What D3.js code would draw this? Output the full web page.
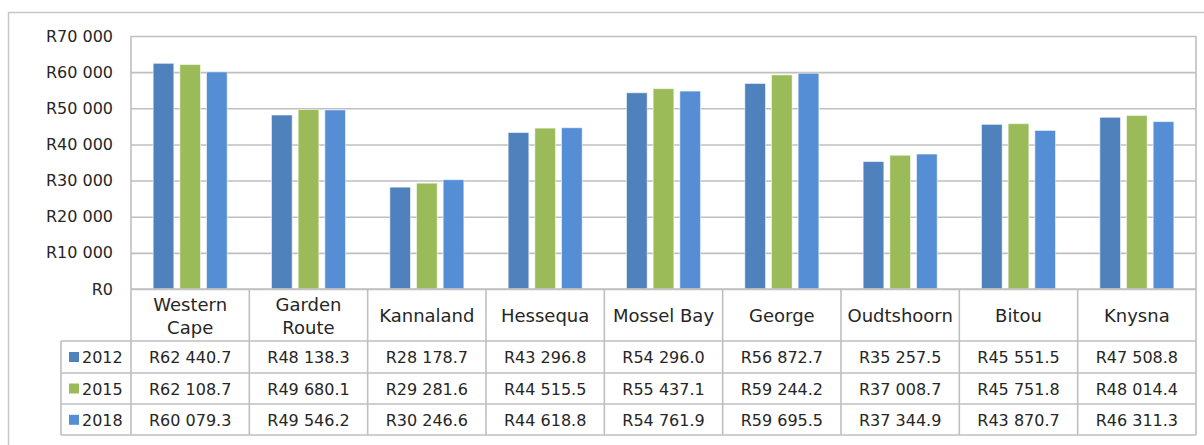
<!DOCTYPE html>
<html>
<head>
<meta charset="utf-8">
<script src="https://cdn.jsdelivr.net/npm/d3@7"></script>
<style>
  html, body { margin: 0; padding: 0; background: #fff; }
  svg { display: block; }
  text { font-family: "DejaVu Sans", sans-serif; fill: #262626; }
</style>
</head>
<body>
<svg id="chart" width="1204" height="445"></svg>
<script>
const categories = ["Western Cape", "Garden Route", "Kannaland", "Hessequa", "Mossel Bay", "George", "Oudtshoorn", "Bitou", "Knysna"];
const headerLabels = [["Western", "Cape"], ["Garden", "Route"], ["Kannaland"], ["Hessequa"], ["Mossel Bay"], ["George"], ["Oudtshoorn"], ["Bitou"], ["Knysna"]];
const years = ["2012", "2015", "2018"];
const values2012 = [62440.7, 48138.3, 28178.7, 43296.8, 54296.0, 56872.7, 35257.5, 45551.5, 47508.8];
const values2015 = [62108.7, 49680.1, 29281.6, 44515.5, 55437.1, 59244.2, 37008.7, 45751.8, 48014.4];
const values2018 = [60079.3, 49546.2, 30246.6, 44618.8, 54761.9, 59695.5, 37344.9, 43870.7, 46311.3];
const yTicks = [0, 10000, 20000, 30000, 40000, 50000, 60000, 70000];
const colors = ["#4F81BD", "#9BBB59", "#558ED5"];

(function () {
const series = [values2012, values2015, values2018];

const locale = d3.formatLocale({ decimal: ".", thousands: " ", grouping: [3], currency: ["R", ""] });
const fmtTick = locale.format("$,.0f");
const fmtVal = locale.format("$,.1f");

const svg = d3.select("#chart");
const grid = "#BFBFBF";

// outer chart border (cropped at right & bottom)
svg.append("rect").attr("x", 8.5).attr("y", 12.5).attr("width", 1220).attr("height", 460)
  .attr("fill", "none").attr("stroke", "#C6C6C6").attr("stroke-width", 1.5);

const pLeft = 131, pRight = 1196, pTop = 36, pBase = 289;
const rowY = [289, 341, 373, 404, 435];
const legendLeft = 61;

const y = d3.scaleLinear().domain([0, 70000]).range([pBase, pTop]);
const x = d3.scaleBand().domain(categories).range([pLeft, pRight]).padding(0);
const xs = d3.scaleBand().domain(years).range([0, x.bandwidth()]).paddingInner(0.224).paddingOuter(0.83);

// y axis with gridlines
const yAxis = d3.axisLeft(y).tickValues(yTicks).tickSize(-(pRight - pLeft)).tickPadding(18).tickFormat(fmtTick);
const gy = svg.append("g").attr("transform", `translate(${pLeft},0)`).call(yAxis);
gy.select(".domain").remove();
gy.selectAll(".tick line").attr("stroke", grid).attr("stroke-width", 1.6);
gy.selectAll(".tick text").attr("font-size", 16).attr("fill", "#262626")
  .attr("font-family", "DejaVu Sans, sans-serif");

// plot frame verticals
svg.append("line").attr("x1", pLeft).attr("x2", pLeft).attr("y1", pTop).attr("y2", pBase)
  .attr("stroke", grid).attr("stroke-width", 1.6);
svg.append("line").attr("x1", pRight).attr("x2", pRight).attr("y1", pTop).attr("y2", pBase)
  .attr("stroke", grid).attr("stroke-width", 1.6);

// bars
years.forEach((yr, si) => {
  svg.append("g").selectAll("rect").data(series[si]).join("rect")
    .attr("x", (d, i) => x(categories[i]) + xs(yr))
    .attr("width", xs.bandwidth())
    .attr("y", d => y(d))
    .attr("height", d => y(0) - y(d))
    .attr("fill", colors[si])
    .attr("stroke", "rgba(255,255,255,0.55)")
    .attr("stroke-width", 1);
});

// data table lines
const tbl = svg.append("g").attr("stroke", grid).attr("stroke-width", 1.6);
rowY.forEach((ry, k) => {
  tbl.append("line").attr("x1", k === 0 ? pLeft : legendLeft).attr("x2", pRight).attr("y1", ry).attr("y2", ry);
});
d3.range(categories.length + 1).forEach(k => {
  const xx = k < categories.length ? x(categories[k]) : pRight;
  tbl.append("line").attr("x1", xx).attr("x2", xx).attr("y1", rowY[0]).attr("y2", rowY[4]);
});
tbl.append("line").attr("x1", legendLeft).attr("x2", legendLeft).attr("y1", rowY[1]).attr("y2", rowY[4]);

// header labels
const hdr = svg.append("g");
categories.forEach((c, i) => {
  const cx = x(c) + x.bandwidth() / 2;
  const lines = headerLabels[i];
  const t = hdr.append("text").attr("x", cx).attr("text-anchor", "middle").attr("font-size", 18);
  if (lines.length === 1) {
    t.attr("y", 322).text(lines[0]);
  } else {
    lines.forEach((ln, j) => t.append("tspan").attr("x", cx).attr("y", 311 + j * 22.5).text(ln));
  }
});

// rows
const baselines = [363, 394.5, 425.8];
years.forEach((yr, si) => {
  const g = svg.append("g");
  g.append("rect").attr("x", 69).attr("y", baselines[si] - 11).attr("width", 10).attr("height", 10).attr("fill", colors[si]);
  g.append("text").attr("x", 82).attr("y", baselines[si]).attr("font-size", 16).text(yr);
  g.selectAll("text.v").data(series[si]).join("text").attr("class", "v")
    .attr("x", (d, i) => x(categories[i]) + x.bandwidth() / 2)
    .attr("y", baselines[si]).attr("text-anchor", "middle").attr("font-size", 16)
    .text(d => fmtVal(d));
});
})();
</script>
</body>
</html>
